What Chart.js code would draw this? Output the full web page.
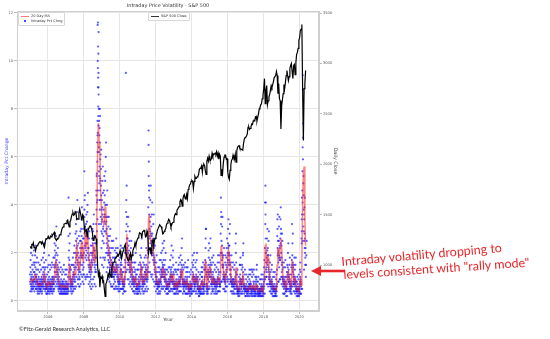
<!DOCTYPE html>
<html><head><meta charset="utf-8">
<script src="https://cdn.jsdelivr.net/npm/chart.js@4.4.1/dist/chart.umd.min.js"></script>
<style>
html,body{margin:0;padding:0;background:#fff;}
#wrap{position:relative;width:550px;height:339px;overflow:hidden;font-family:"DejaVu Sans",sans-serif;}
#c{position:absolute;left:0;top:0;}
.abs{position:absolute;white-space:nowrap;}
#title{left:0;width:336px;top:2px;text-align:center;font-size:4.9px;color:#333;}
.leg{border:0.5px solid #d8d8d8;border-radius:1px;background:#fff;font-size:3.5px;color:#333;padding:1px 2px;line-height:5px;}
.sw{display:inline-block;width:8px;height:0;vertical-align:middle;margin-right:2px;}
.dot{display:inline-block;width:8px;text-align:center;margin-right:2px;vertical-align:middle;line-height:5px;}
.dot i{display:inline-block;width:1.6px;height:1.6px;background:#2020ff;border-radius:50%;}
#copy{left:19px;top:325px;font-family:Lato,sans-serif;font-size:5.6px;color:#333;}
.ann{font-family:Lato,sans-serif;font-size:12.5px;color:#e8262b;transform-origin:0 100%;}
</style></head><body>
<div id="wrap">
<canvas id="c" width="550" height="339"></canvas>
<div class="abs" id="title">Intraday Price Volatility - S&amp;P 500</div>
<div class="abs leg" style="left:18px;top:12px;">
  <div><span class="sw" style="border-top:1px solid rgba(255,60,60,0.7)"></span>20 Day MA</div>
  <div><span class="dot"><i></i></span>Intraday Pct Chng</div>
</div>
<div class="abs leg" style="left:148px;top:12px;">
  <div><span class="sw" style="border-top:0.8px solid #333"></span>S&amp;P 500 Close</div>
</div>
<div class="abs" id="copy">©Fitz-Gerald Research Analytics, LLC</div>
<div class="abs ann" style="left:342px;top:254px;transform:rotate(-5deg);">Intraday volatility dropping to</div>
<div class="abs ann" style="left:344px;top:267px;transform:rotate(-3.8deg);">levels consistent with "rally mode"</div>
<svg class="abs" style="left:305px;top:262px;" width="45" height="18">
  <line x1="14" y1="9" x2="40" y2="9" stroke="#e8262b" stroke-width="2.6"/>
  <polygon points="6,9 16,4 16,14" fill="#e8262b"/>
</svg>
</div>
<script>
const startYear = 2005;
const xTicks = [2006, 2008, 2010, 2012, 2014, 2016, 2018, 2020];
const leftTicks = [0, 2, 4, 6, 8, 10, 12];
const rightTicks = [1000, 1500, 2000, 2500, 3000, 3500];

// S&P 500 close, two readings per month (early / late), 2005 .. early May 2020
const spxClose = [
1186,1168,1204,1201,1222,1172,1184,1143,1172,1194,1201,1213,1225,1233,1226,1210,1232,1215,1192,1178,1232,1262,1261,1268,
1285,1263,1266,1287,1279,1305,1300,1311,1325,1268,1256,1245,1265,1262,1271,1300,1300,1315,1350,1370,1380,1406,1410,1415,
1410,1440,1448,1410,1380,1430,1445,1480,1505,1520,1495,1500,1530,1520,1455,1460,1455,1518,1555,1515,1480,1440,1500,1485,
1390,1330,1340,1350,1280,1340,1360,1380,1390,1375,1360,1320,1245,1255,1290,1280,1260,1190,985,900,930,780,880,870,
890,830,840,760,690,815,830,865,910,890,940,900,880,975,1010,1026,1030,1060,1070,1080,1090,1105,1095,1115,
1145,1095,1065,1105,1140,1165,1190,1205,1110,1085,1060,1045,1060,1100,1120,1065,1100,1140,1165,1180,1220,1190,1230,1255,
1270,1290,1320,1315,1310,1270,1330,1335,1345,1330,1280,1285,1340,1320,1120,1160,1170,1135,1120,1240,1265,1190,1250,1265,
1290,1315,1350,1365,1365,1400,1390,1380,1355,1310,1315,1335,1350,1360,1400,1415,1435,1455,1445,1415,1380,1400,1420,1425,
1460,1495,1510,1500,1545,1555,1570,1580,1625,1650,1640,1585,1655,1690,1700,1660,1655,1700,1660,1750,1770,1795,1805,1830,
1840,1830,1760,1830,1880,1860,1860,1875,1880,1900,1950,1960,1965,1985,1920,1990,2000,1985,1935,1900,2030,2060,2030,2080,
2045,2040,2055,2110,2080,2100,2100,2110,2100,2125,2080,2110,2050,2100,2080,1890,1950,1910,2010,2070,2090,2090,2050,2055,
1920,1870,1850,1940,1990,2040,2050,2090,2060,2050,2100,2020,2130,2170,2180,2185,2160,2150,2150,2145,2140,2205,2250,2265,
2270,2280,2300,2365,2370,2345,2355,2375,2400,2395,2430,2435,2430,2470,2475,2430,2465,2500,2550,2565,2590,2600,2650,2680,
2750,2850,2600,2730,2780,2590,2630,2670,2690,2735,2780,2760,2790,2820,2860,2860,2880,2920,2880,2700,2800,2650,2630,2350,
2580,2640,2700,2790,2750,2810,2880,2930,2880,2830,2870,2950,2980,3000,2920,2850,2980,2990,2890,3010,3090,3110,3150,3230,
3255,3325,3340,3386,2750,2237,2750,2800,2930
];

// 20-day moving average of intraday % change, two readings per month
const ma20 = [
0.95,0.9,0.8,0.8,0.85,0.9,1.05,1.1,0.9,0.8,0.7,0.7,0.65,0.65,0.7,0.7,0.75,0.8,1.05,1.15,0.8,0.7,0.6,0.6,
0.8,0.8,0.7,0.65,0.7,0.7,0.75,0.75,1.0,1.45,1.65,1.5,1.2,1.1,0.8,0.7,0.65,0.6,0.6,0.6,0.65,0.6,0.6,0.6,
0.6,0.6,0.55,0.9,1.45,1.3,0.75,0.7,0.8,0.8,1.1,1.2,1.1,1.7,2.3,2.1,1.6,1.3,1.3,1.7,2.4,2.5,1.8,1.6,
2.3,3.0,2.4,2.3,2.7,2.6,1.8,1.6,1.4,1.3,1.5,1.8,2.3,2.2,1.8,1.6,2.4,3.6,6.3,7.4,6.6,6.2,4.6,3.8,
3.4,3.4,3.2,3.3,3.9,3.8,2.9,2.6,2.3,2.1,1.9,1.7,1.5,1.4,1.5,1.4,1.2,1.2,1.3,1.5,1.3,1.1,0.9,0.85,
0.9,1.3,1.2,1.0,0.75,0.7,0.9,1.2,2.3,2.8,2.1,1.9,1.7,1.5,1.3,1.5,1.1,0.95,0.85,0.8,0.95,1.0,0.65,0.6,
0.7,0.7,0.7,0.9,1.4,1.2,0.8,0.75,0.85,0.9,1.1,1.2,1.0,1.1,3.4,3.6,2.8,2.8,2.4,2.3,2.1,2.0,1.5,1.4,
1.0,0.85,0.7,0.7,0.75,0.8,0.9,1.0,1.2,1.35,1.35,1.2,1.0,0.95,0.65,0.6,0.7,0.7,0.8,0.85,1.1,1.05,0.95,1.05,
0.7,0.6,0.65,0.8,0.65,0.65,0.8,0.85,0.8,0.95,1.3,1.25,0.75,0.7,0.75,0.8,0.7,0.7,0.85,0.7,0.55,0.55,0.65,0.6,
0.65,1.0,1.1,0.8,0.8,0.8,1.0,0.9,0.6,0.55,0.5,0.5,0.6,0.75,0.85,0.65,0.7,0.8,1.7,1.5,0.6,0.55,1.1,1.3,
1.4,1.4,1.0,0.75,0.95,0.95,0.8,0.75,0.7,0.7,0.8,0.95,1.0,0.8,1.0,2.3,2.1,1.8,1.3,1.1,0.95,0.85,1.3,1.3,
1.8,2.1,1.9,1.5,1.0,0.85,0.8,0.75,0.75,0.7,0.85,1.4,0.75,0.55,0.45,0.45,0.8,0.9,0.7,0.7,1.1,1.0,0.6,0.55,
0.55,0.5,0.45,0.45,0.55,0.6,0.65,0.6,0.5,0.6,0.55,0.6,0.45,0.45,0.65,0.7,0.45,0.4,0.4,0.4,0.45,0.55,0.5,0.45,
0.6,0.85,2.3,2.4,1.6,1.7,1.8,1.3,0.95,0.85,0.75,0.7,0.55,0.5,0.5,0.5,0.5,0.45,1.5,2.2,2.0,1.9,2.2,2.6,
2.2,1.4,0.9,0.75,0.8,0.75,0.55,0.55,1.1,1.2,0.95,0.8,0.6,0.65,1.6,1.5,0.9,0.8,0.9,0.7,0.45,0.45,0.5,0.45,
0.6,0.85,0.65,1.7,4.2,5.3,5.6,3.4,2.3
];

// Daily intraday % change readings, grouped by month (Jan 2005 .. May 2020)
const pctChng = [
[1.1,0.8,1.4,0.7,0.9,1.2,0.6,1.0],[0.7,0.9,0.6,1.1,0.8,0.5,1.3,0.8],[0.8,1.0,0.7,0.9,1.2,0.6,0.8,1.5],[1.2,0.9,1.6,1.1,0.8,1.4,0.7,1.0],
[1.0,0.8,1.3,0.6,0.9,1.1,0.7,0.8],[0.6,0.8,0.5,0.7,0.9,0.6,1.0,0.7],[0.6,0.7,0.5,0.8,0.6,0.9,0.5,0.7],[0.7,0.6,0.8,0.5,0.9,0.7,0.6,1.0],
[0.8,0.6,0.9,0.7,1.1,0.6,0.8,0.7],[1.2,0.9,1.4,1.0,1.6,0.8,1.1,1.3],[0.8,0.6,0.9,0.7,0.5,1.0,0.7,0.6],[0.6,0.5,0.7,0.6,0.8,0.5,0.6,0.4],
[0.7,0.9,0.6,1.2,0.8,0.5,1.0,0.7],[0.6,0.8,0.5,0.7,0.9,0.6,0.7,0.5],[0.7,0.6,0.8,0.5,0.9,0.6,0.7,1.0],[0.8,0.6,0.9,0.7,1.0,0.5,0.7,0.8],
[0.7,0.9,1.4,1.8,1.2,2.1,1.5,1.0],[1.9,1.4,2.3,1.6,1.2,2.0,1.1,1.7],[1.0,1.3,0.9,1.5,1.2,0.8,1.1,1.4],[0.7,0.9,0.6,0.8,1.0,0.6,0.7,0.5],
[0.6,0.5,0.8,0.6,0.7,0.4,0.6,0.9],[0.5,0.7,0.6,0.4,0.8,0.5,0.6,0.7],[0.6,0.8,0.5,0.7,0.4,0.6,0.9,0.5],[0.5,0.6,0.7,0.4,0.6,0.8,0.5,0.6],
[0.6,0.5,0.7,0.4,0.8,0.6,0.5,0.7],[0.5,0.6,0.4,0.7,0.5,0.6,4.3,1.8],[2.1,1.5,1.2,1.7,0.9,1.3,1.0,1.4],[0.8,0.6,0.9,0.7,0.5,0.8,0.6,0.7],
[0.7,0.9,0.6,0.8,1.0,0.7,0.6,1.1],[1.2,0.9,1.5,1.1,0.8,1.4,1.0,1.3],[0.9,1.1,0.8,1.6,2.0,1.4,2.5,1.8],[2.9,2.2,3.4,1.9,2.6,1.7,2.3,1.5],
[1.6,1.3,2.0,1.1,1.4,0.9,1.2,1.8],[1.0,1.3,0.9,1.6,2.2,1.2,1.9,1.5],[2.5,2.0,3.0,1.8,2.7,2.2,1.9,2.4],[1.8,1.5,2.2,1.3,1.9,1.1,1.6,1.4],
[2.0,2.6,3.5,5.4,4.2,2.8,3.1,2.3],[2.2,1.8,2.7,2.4,1.9,2.1,2.9,1.7],[2.8,3.3,2.4,3.7,2.0,2.6,3.0,2.2],[1.8,1.5,2.2,1.4,1.7,1.2,1.9,1.3],
[1.2,1.5,1.0,1.4,1.1,1.6,0.9,1.3],[1.4,1.7,1.2,2.0,1.6,1.9,2.3,1.5],[2.4,2.0,2.9,1.8,2.6,2.2,1.7,2.1],[1.6,1.9,1.4,2.1,1.5,1.2,1.8,1.3],
[1.8,2.4,3.2,4.6,3.8,5.2,4.1,2.9,6.6],
[4.2,5.8,6.9,7.5,11.5,10.0,9.7,11.6,8.9,10.6,9.3,8.1,7.7,10.3,8.9,9.5,7.3,11.2,8.6,6.4],
[6.2,8.0,5.4,7.5,4.9,6.9,5.6,7.2,8.0,6.6,5.1,7.7,4.6,5.9],
[5.0,4.2,6.1,3.5,4.8,3.2,4.4,2.9,3.8,3.3],
[3.4,4.2,2.8,3.9,2.5,3.6,4.5,3.0],[3.1,2.7,3.8,2.4,3.5,4.1,2.9,3.3],[4.4,3.6,5.0,3.2,4.0,2.9,3.5,6.6],[2.8,3.3,2.4,3.0,2.2,2.6,3.5,2.0],
[2.3,1.9,2.7,1.7,2.1,2.5,1.6,2.0],[1.9,1.6,2.2,1.4,1.8,1.5,2.0,1.3],[1.5,1.2,1.7,1.1,1.4,1.0,1.6,1.3],[1.3,1.6,1.1,1.8,1.2,1.0,1.5,1.4],
[1.2,1.0,1.4,0.9,1.1,1.3,0.8,1.2],[1.3,1.6,1.1,1.8,1.2,1.5,2.0,1.4],[1.2,1.4,1.0,1.3,0.9,1.1,1.5,0.8],[0.8,0.7,1.0,0.6,0.9,0.7,0.8,1.1],
[0.8,0.9,0.7,1.2,1.5,1.3,1.1,1.6],[1.3,1.0,1.5,0.9,1.1,0.8,1.2,0.7],[0.7,0.6,0.8,0.5,0.7,0.9,0.6,0.7],[0.6,0.8,0.7,1.0,0.9,1.4,1.6,1.2],
[2.0,9.5,3.7,2.9,2.4,3.2,2.6,3.5,2.1],[2.2,1.8,2.6,1.6,2.0,1.5,2.3,1.7],[1.8,1.5,2.1,1.3,1.6,1.2,1.4,1.9],[1.2,1.5,1.0,1.7,1.3,1.1,1.6,1.4],
[1.1,0.9,1.3,0.8,1.0,0.7,1.2,0.9],[0.8,0.7,1.0,0.6,0.9,0.7,0.8,0.6],[0.9,1.2,0.8,1.3,1.0,0.7,1.1,0.9],[0.6,0.5,0.7,0.5,0.6,0.4,0.7,0.5],
[0.7,0.6,0.9,0.5,0.8,0.6,0.7,1.0],[0.6,0.8,0.5,0.7,0.6,1.1,0.9,1.3],[1.5,1.2,1.8,1.0,1.4,1.1,1.3,0.9],[0.8,0.7,1.0,0.6,0.8,0.7,0.9,0.6],
[0.8,1.0,0.7,1.1,0.9,0.8,1.2,0.7],[1.2,0.9,1.4,1.0,1.3,1.1,0.9,1.5],[0.9,1.1,0.8,1.3,1.0,1.2,0.9,1.4],[2.0,3.9,7.1,6.5,5.8,4.8,3.6,4.3,3.0,2.6],
[2.7,3.3,2.2,2.9,2.4,3.5,2.0,2.8],[2.5,3.1,2.0,2.7,2.3,1.9,2.8,2.1],[2.0,2.5,1.7,2.3,1.9,2.6,1.6,2.2],[1.5,1.8,1.3,1.7,1.2,1.6,1.4,1.1],
[1.0,0.8,1.2,0.7,0.9,0.8,1.0,0.7],[0.7,0.6,0.8,0.5,0.7,0.6,0.8,0.6],[0.7,0.9,0.6,0.8,1.2,0.7,0.6,0.8],[0.8,1.1,0.9,1.3,0.8,1.0,0.7,1.2],
[1.0,1.3,1.1,1.6,1.2,1.4,1.0,1.5],[1.4,1.1,1.7,1.2,1.0,1.3,0.9,1.5],[1.0,0.8,1.2,0.9,1.1,0.8,1.3,0.9],[0.6,0.7,0.5,0.8,0.6,0.5,0.7,0.6],
[0.7,0.6,0.8,0.5,0.7,0.9,0.6,0.7],[0.7,0.9,0.6,0.8,0.7,1.0,0.8,1.1],[1.0,1.3,0.9,1.2,1.1,0.8,1.4,1.0],[0.8,1.0,0.7,1.1,0.9,0.8,1.5,1.2],
[0.7,0.6,0.8,0.5,0.7,0.6,0.5,0.7],[0.6,0.7,0.5,0.8,0.6,1.2,0.9,0.7],[0.6,0.7,0.5,0.6,0.8,0.5,0.7,0.6],[0.7,0.9,0.6,1.3,0.8,0.7,1.0,0.8],
[0.7,0.8,0.6,0.9,0.7,1.2,1.0,1.1],[1.3,1.0,1.5,1.1,1.7,1.2,0.9,1.4],[0.8,0.7,0.9,0.6,0.7,0.5,0.8,0.6],[0.6,0.8,0.7,0.9,0.6,0.8,0.7,1.0],
[0.7,0.6,0.8,0.5,0.7,0.6,0.9,0.6],[0.8,1.0,0.7,1.2,0.6,0.7,0.5,0.6],[0.5,0.6,0.4,0.7,0.5,0.6,0.5,0.4],[0.6,0.8,0.5,0.7,0.6,0.5,0.7,0.4],
[0.6,0.5,0.7,0.6,0.9,1.2,1.0,1.4],[1.5,1.1,0.9,0.8,1.0,0.7,0.6,0.8],[0.7,0.9,0.6,1.0,0.8,0.7,0.9,0.6],[0.8,1.1,0.9,1.3,0.8,1.0,0.7,0.9],
[0.6,0.7,0.5,0.6,0.8,0.5,0.4,0.6],[0.4,0.5,0.6,0.4,0.5,0.3,0.5,0.6],[0.5,0.6,0.4,0.7,0.5,0.8,1.0,0.7],[1.0,0.8,1.2,0.7,0.6,0.5,0.6,0.4],
[0.6,0.5,0.7,0.6,0.8,0.9,0.7,1.0],[1.3,1.7,1.4,2.2,3.0,1.6,1.1,1.2],[0.6,0.5,0.7,0.4,0.6,0.5,0.4,0.6],[0.9,1.3,1.5,1.1,1.8,1.2,0.8,1.0],
[1.4,1.1,1.7,1.2,1.5,1.0,1.3,1.6],[1.2,0.9,1.0,0.7,0.8,0.6,0.7,0.5],[0.8,1.1,0.9,1.2,0.7,1.0,0.8,0.9],[0.7,0.9,0.6,0.8,0.7,0.9,0.6,0.8],
[0.7,0.6,0.8,0.5,0.7,0.6,0.8,0.6],[0.7,0.9,0.6,0.8,1.0,0.7,1.3,0.9],[1.1,0.9,1.2,0.8,0.7,0.6,0.9,0.7],[0.7,0.6,0.8,1.2,2.0,4.3,3.7,3.5],
[2.5,2.0,1.7,2.3,1.5,1.9,1.4,1.8],[1.4,1.1,1.5,1.0,1.2,0.9,1.0,0.8],[0.9,1.0,0.8,1.1,0.7,0.9,0.8,0.6],[1.1,1.5,1.3,1.8,1.2,1.4,1.0,0.9],
[1.6,2.0,1.7,2.4,1.9,2.2,1.5,2.3],[2.0,1.7,2.3,1.6,1.9,1.3,1.5,1.1],[1.1,0.9,1.3,0.8,1.0,0.7,0.8,0.6],[0.8,0.7,0.9,0.6,0.8,0.7,0.6,0.9],
[0.7,0.9,0.6,0.8,0.7,0.5,0.6,0.7],[0.8,0.7,1.0,0.9,1.2,2.0,1.6,1.1],[0.8,0.6,0.7,0.5,0.6,0.4,0.5,0.4],[0.4,0.5,0.3,0.5,0.4,0.6,0.4,0.5],
[0.5,0.7,1.5,0.9,1.1,0.8,0.7,0.9],[0.6,0.7,0.5,0.8,0.6,0.7,0.9,0.6],[0.8,1.4,1.0,1.9,1.2,0.9,0.7,0.6],[0.6,0.7,0.5,0.6,0.4,0.5,0.6,0.4],
[0.5,0.6,0.4,0.5,0.7,0.4,0.6,0.5],[0.4,0.5,0.3,0.5,0.4,0.6,0.4,0.5],[0.5,0.6,0.4,0.7,0.5,0.9,0.6,0.7],[0.6,0.7,0.5,0.8,0.6,0.5,0.7,0.4],
[0.4,0.5,0.3,0.5,1.3,0.6,0.4,0.5],[0.5,0.6,0.4,0.8,0.5,0.7,0.6,0.5],[0.4,0.5,0.3,0.4,0.5,0.3,0.4,0.6],[0.5,0.7,0.9,1.0,0.6,0.8,0.5,0.6],
[0.5,0.4,0.6,0.3,0.4,0.5,0.3,0.4],[0.3,0.4,0.3,0.5,0.4,0.3,0.4,0.5],[0.4,0.5,0.3,0.6,0.5,0.4,0.7,0.6],[0.5,0.4,0.6,0.4,0.5,0.3,0.6,0.4],
[0.6,0.7,0.5,0.8,0.6,0.9,1.0,1.2],[2.2,4.1,3.2,4.8,2.6,2.0,1.6,1.3],[1.4,1.0,1.8,1.2,1.6,2.1,1.5,1.9],[2.2,1.7,1.9,1.4,1.3,1.0,1.2,0.9],
[0.9,1.1,0.8,0.7,1.0,0.6,0.8,1.2],[0.7,0.6,0.8,0.5,0.7,0.9,0.6,0.8],[0.6,0.5,0.7,0.4,0.6,0.5,0.4,0.6],[0.5,0.4,0.6,0.5,0.7,0.4,0.5,0.3],
[0.5,0.4,0.6,0.3,0.5,0.4,0.6,0.4],[0.6,1.3,2.7,3.4,2.2,1.9,2.5,2.0],[1.6,2.1,1.8,2.5,1.4,1.9,1.7,2.3],[2.2,1.8,2.6,1.7,2.4,3.9,3.0,2.0],
[2.3,1.8,1.5,1.2,1.6,1.0,1.3,0.9],[0.9,0.8,1.0,0.7,0.6,0.8,0.5,0.7],[0.7,0.9,0.6,0.8,1.0,0.7,0.6,0.8],[0.5,0.6,0.4,0.5,0.6,0.4,0.5,0.7],
[1.5,1.1,1.4,0.9,1.2,1.0,0.8,1.3],[1.0,0.8,1.1,0.7,0.9,0.6,0.8,0.7],[0.5,0.6,0.4,0.6,0.5,0.7,0.6,0.8],[1.7,3.2,1.5,1.9,1.3,1.6,1.2,1.4],
[1.0,0.8,1.1,0.7,0.9,0.6,0.8,0.7],[1.3,1.0,0.9,0.8,0.7,0.6,0.8,0.5],[0.5,0.4,0.6,0.4,0.5,0.3,0.5,0.4],[0.7,0.5,0.6,0.4,0.5,0.4,0.3,0.5],
[0.5,0.6,0.4,0.7,0.8,1.0,1.2,0.9],[0.8,0.6,0.7,0.5,2.4,3.4,4.3,3.6],[4.6,5.4,4.1,6.4,8.8,5.9,6.8,4.9,5.2,3.8,4.4],[3.6,2.9,3.4,2.5,2.8,2.2,2.6,2.0],
[1.8,2.2,1.5,1.9]
];

// Additional daily readings per month (the low and high edges of the cloud)
const pctChngEdge = [
[0.4,1.7,2.0,0.5],[0.4,1.5,1.9,0.6],[0.5,1.6,2.1,0.4],[0.6,1.9,2.3,0.5],[0.5,1.6,1.8,0.4],[0.3,1.3,1.6,0.4],[0.3,1.2,1.5,0.4],[0.4,1.3,1.7,0.3],[0.4,1.4,1.8,0.5],[0.6,2.0,2.4,0.5],[0.4,1.4,1.7,0.3],[0.3,1.1,1.4,0.3],
[0.4,1.5,1.9,0.4],[0.3,1.3,1.5,0.4],[0.4,1.4,1.6,0.3],[0.4,1.5,1.8,0.4],[0.5,2.4,2.8,0.6],[0.8,2.7,3.1,0.7],[0.6,1.9,2.2,0.5],[0.4,1.3,1.6,0.3],[0.3,1.2,1.4,0.3],[0.3,1.1,1.3,0.3],[0.3,1.2,1.5,0.3],[0.3,1.1,1.3,0.3],
[0.3,1.1,1.3,0.3],[0.3,1.0,2.7,0.4],[0.7,2.4,2.8,0.6],[0.4,1.3,1.5,0.3],[0.4,1.5,1.8,0.4],[0.5,2.0,2.3,0.6],[0.5,2.8,3.2,0.6],[1.0,3.7,4.2,0.9],[0.7,2.4,2.7,0.6],[0.6,2.5,2.9,0.7],[1.1,3.4,3.9,1.0],[0.8,2.6,3.0,0.7],
[1.1,3.8,4.4,1.0],[0.9,3.2,3.6,1.0],[1.1,4.0,4.5,1.0],[0.7,2.6,2.9,0.8],[0.6,2.0,2.3,0.5],[0.7,2.6,3.0,0.6],[0.9,3.2,3.6,1.0],[0.7,2.4,2.7,0.6],[1.2,4.4,5.3,1.5],[3.4,6.2,7.0,4.6],[3.2,5.2,4.2,3.8],[1.8,5.5,6.3,2.2],
[1.5,5.0,5.6,1.8],[1.4,4.6,5.2,1.7],[1.8,5.4,6.0,2.0],[1.2,4.0,4.6,1.4],[0.9,3.1,3.5,1.0],[0.8,2.7,3.0,0.7],[0.6,2.2,2.5,0.6],[0.6,2.2,2.5,0.7],[0.5,1.8,2.1,0.5],[0.6,2.2,2.6,0.6],[0.5,1.9,2.2,0.5],[0.4,1.4,1.7,0.4],
[0.5,1.8,2.3,0.5],[0.5,1.9,2.2,0.5],[0.3,1.2,1.4,0.4],[0.4,1.7,2.0,0.4],[1.2,4.2,4.8,1.3],[0.9,3.1,3.5,0.9],[0.7,2.5,2.9,0.8],[0.6,2.2,2.5,0.7],[0.5,1.6,1.9,0.4],[0.4,1.4,1.6,0.3],[0.4,1.6,2.0,0.5],[0.3,1.1,1.3,0.3],
[0.3,1.3,1.5,0.4],[0.4,1.6,1.9,0.3],[0.6,2.2,2.6,0.5],[0.4,1.4,1.6,0.3],[0.4,1.5,1.8,0.4],[0.5,1.9,2.2,0.6],[0.4,1.8,2.1,0.5],[1.2,5.2,4.6,1.6],[1.2,4.2,4.8,1.1],[1.0,3.6,4.1,1.1],[0.9,3.2,3.6,0.8],[0.6,2.3,2.6,0.7],
[0.4,1.6,1.9,0.5],[0.3,1.2,1.4,0.3],[0.4,1.4,1.7,0.3],[0.4,1.7,2.0,0.5],[0.6,2.1,2.4,0.5],[0.6,2.2,2.5,0.6],[0.4,1.7,2.0,0.5],[0.3,1.1,1.3,0.3],[0.3,1.2,1.4,0.4],[0.4,1.4,1.7,0.4],[0.5,1.9,2.3,0.5],[0.4,1.8,2.1,0.5],
[0.3,1.1,1.3,0.3],[0.3,1.3,1.6,0.4],[0.3,1.1,1.3,0.3],[0.4,1.5,1.8,0.4],[0.4,1.6,1.9,0.4],[0.6,2.2,2.6,0.7],[0.3,1.3,1.5,0.4],[0.4,1.4,1.6,0.3],[0.3,1.2,1.4,0.3],[0.3,1.4,1.7,0.4],[0.3,1.0,1.2,0.2],[0.3,1.1,1.3,0.3],
[0.3,1.6,1.9,0.4],[0.4,1.7,2.0,0.5],[0.4,1.4,1.6,0.3],[0.4,1.7,2.0,0.5],[0.3,1.0,1.2,0.2],[0.2,0.9,1.1,0.3],[0.3,1.2,1.4,0.3],[0.3,1.4,1.6,0.3],[0.3,1.3,1.5,0.4],[0.6,2.6,3.0,0.7],[0.3,1.0,1.2,0.3],[0.5,2.1,2.4,0.5],
[0.6,2.2,2.6,0.7],[0.3,1.5,1.8,0.4],[0.4,1.6,1.9,0.5],[0.3,1.3,1.5,0.4],[0.3,1.2,1.4,0.3],[0.4,1.6,1.9,0.4],[0.4,1.6,1.9,0.4],[0.6,2.8,3.2,0.8],[0.8,3.1,3.5,0.9],[0.5,1.9,2.2,0.5],[0.4,1.6,1.9,0.4],[0.6,2.2,2.6,0.6],
[0.8,3.0,3.4,0.9],[0.7,2.8,3.2,0.8],[0.4,1.6,1.9,0.4],[0.3,1.4,1.6,0.4],[0.3,1.3,1.5,0.3],[0.5,2.4,2.8,0.6],[0.3,1.1,1.3,0.3],[0.2,0.8,1.0,0.2],[0.3,1.5,1.8,0.4],[0.3,1.3,1.5,0.3],[0.4,2.0,2.4,0.5],[0.3,1.1,1.3,0.2],
[0.2,0.9,1.1,0.3],[0.2,0.8,1.0,0.2],[0.3,1.1,1.3,0.2],[0.3,1.1,1.3,0.3],[0.2,1.0,1.2,0.2],[0.3,1.1,1.3,0.2],[0.2,0.8,1.0,0.2],[0.3,1.3,1.5,0.3],[0.2,0.8,1.0,0.2],[0.2,0.7,0.9,0.2],[0.2,0.9,1.1,0.2],[0.2,0.9,1.1,0.2],
[0.3,1.4,1.7,0.3],[0.9,3.6,4.1,1.0],[0.7,2.6,3.0,0.7],[0.6,2.5,2.9,0.7],[0.4,1.6,1.9,0.4],[0.3,1.3,1.5,0.3],[0.2,1.0,1.2,0.2],[0.2,1.0,1.2,0.2],[0.2,0.9,1.1,0.2],[0.7,3.0,3.6,0.8],[0.8,3.1,3.5,0.9],[0.9,3.4,2.8,1.0],
[0.7,2.8,2.5,0.6],[0.3,1.4,1.6,0.3],[0.3,1.4,1.7,0.4],[0.2,1.0,1.2,0.2],[0.5,2.0,2.4,0.5],[0.4,1.5,1.8,0.4],[0.3,1.1,1.4,0.3],[0.6,2.4,2.8,0.7],[0.4,1.5,1.8,0.4],[0.3,1.5,1.8,0.4],[0.2,0.8,1.0,0.2],[0.2,0.9,1.1,0.2],
[0.3,1.3,1.6,0.3],[0.3,2.6,2.9,0.5],[2.5,9.4,7.4,3.1],[1.3,3.9,4.3,1.5],[1.0,2.5]
];

const half = (i) => startYear + (i + 0.5) / 24;
const spxData = spxClose.map((v, i) => ({x: half(i), y: v}));
const maData = ma20.map((v, i) => ({x: half(i), y: v}));
const pctData = [];
pctChng.forEach((arr, m) => {
  const extra = pctChngEdge[m] || [];
  const merged = [];
  let a = 0, b = 0;
  while (a < arr.length || b < extra.length) {
    if (a < arr.length) merged.push(arr[a++]);
    if (b < extra.length && (a % 2 === 0 || a >= arr.length)) merged.push(extra[b++]);
  }
  merged.forEach((v, k) => pctData.push({x: startYear + (m + (k + 0.5) / merged.length) / 12, y: v}));
});

const frame = {
  id: 'frame',
  afterDraw(chart) {
    const {ctx, chartArea: a} = chart;
    ctx.save();
    ctx.strokeStyle = '#cfcfcf';
    ctx.lineWidth = 1;
    ctx.strokeRect(a.left + 0.5, a.top + 0.5, a.right - a.left - 1, a.bottom - a.top - 1);
    ctx.restore();
  }
};

const tickFont = {family: 'DejaVu Sans', size: 3.6};
new Chart(document.getElementById('c'), {
  type: 'scatter',
  data: {
    datasets: [
      {label: 'S&P 500 Close', data: spxData, yAxisID: 'y2', showLine: true, borderColor: '#000', borderWidth: 1.2, pointRadius: 0, order: 0},
      {label: '20 Day MA', data: maData, yAxisID: 'y', showLine: true, borderColor: 'rgba(255,30,30,0.55)', borderWidth: 1.5, pointRadius: 0, order: 1},
      {label: 'Intraday Pct Chng', data: pctData, yAxisID: 'y', pointRadius: 1.1, pointBorderWidth: 0, backgroundColor: 'rgba(20,20,255,0.7)', borderColor: 'rgba(20,20,255,0.7)', order: 2}
    ]
  },
  options: {
    responsive: false,
    animation: false,
    layout: {padding: {left: 0, top: 11, right: 201, bottom: 0}},
    plugins: {legend: {display: false}, tooltip: {enabled: false}},
    scales: {
      x: {
        type: 'linear', min: 2004.28, max: 2021.1,
        afterBuildTicks: s => { s.ticks = xTicks.map(v => ({value: v})); },
        afterFit: s => { s.height = 28; },
        ticks: {font: tickFont, color: '#555', padding: 1, maxRotation: 0, autoSkip: false, callback: v => String(v)},
        grid: {color: '#e6e6e6', tickLength: 3, tickColor: '#bbb'},
        border: {color: '#cfcfcf'},
        title: {display: true, text: 'Year', color: '#444', font: {family: 'DejaVu Sans', size: 4.6}, padding: {top: 0, bottom: 16}}
      },
      y: {
        position: 'left', min: -0.42, max: 12.08,
        afterBuildTicks: s => { s.ticks = leftTicks.map(v => ({value: v})); },
        afterFit: s => { s.width = 17; },
        ticks: {font: tickFont, color: '#555', padding: 1},
        grid: {color: '#e6e6e6', tickLength: 3, tickColor: '#bbb'},
        border: {color: '#cfcfcf'},
        title: {display: true, text: 'Intraday Pct Change', color: '#4040ff', font: {family: 'DejaVu Sans', size: 4.6}, padding: {top: 4, bottom: 4}}
      },
      y2: {
        position: 'right', min: 545, max: 3520,
        afterBuildTicks: s => { s.ticks = rightTicks.map(v => ({value: v})); },
        afterFit: s => { s.width = 30; },
        ticks: {font: tickFont, color: '#555', padding: 1, callback: v => String(v)},
        grid: {drawOnChartArea: false, tickLength: 3, tickColor: '#bbb'},
        border: {color: '#cfcfcf'},
        title: {display: true, text: 'Daily Close', color: '#444', font: {family: 'DejaVu Sans', size: 4.8}, padding: {top: 11, bottom: 11}}
      }
    }
  },
  plugins: [frame]
});
</script>
</body></html>
